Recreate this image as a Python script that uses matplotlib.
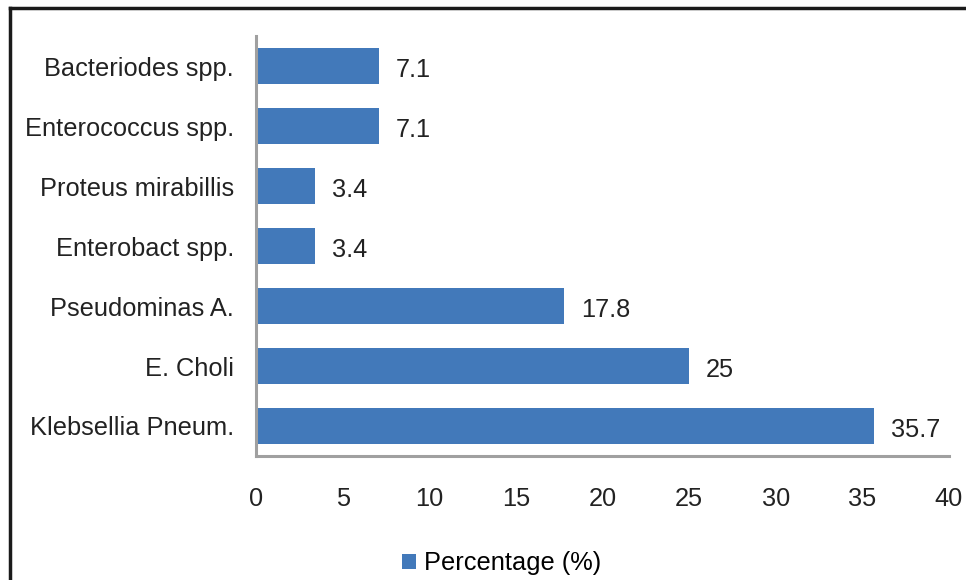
import matplotlib.pyplot as plt
from matplotlib.lines import Line2D

# dados
organismos = ['Klebsellia Pneum.', 'E. Choli', 'Pseudominas A.', 'Enterobact spp.',
              'Proteus mirabillis', 'Enterococcus spp.', 'Bacteriodes spp.']
percentagem = [35.7, 25, 17.8, 3.4, 3.4, 7.1, 7.1]
rotulos = ['35.7', '25', '17.8', '3.4', '3.4', '7.1', '7.1']
ticks_x = [0, 5, 10, 15, 20, 25, 30, 35, 40]

plt.rcParams['font.family'] = ['Liberation Sans', 'DejaVu Sans']
fs = 18.3

fig = plt.figure(figsize=(9.66, 5.8), dpi=100)
ax = fig.add_axes([0.265, 0.2138, 0.7174, 0.7241])

cor = '#4279BA'
pos = range(len(organismos))
ax.barh(pos, percentagem, height=0.6, color=cor, label='Percentage (%)')

for i, (v, t) in enumerate(zip(percentagem, rotulos)):
    ax.annotate(t, (v, i), xytext=(12, -3), textcoords='offset points',
                va='center', ha='left', fontsize=fs, color='#222222')

ax.set_xlim(0, 40)
ax.set_ylim(-0.5, 6.5)
ax.set_yticks(list(pos))
ax.set_yticklabels(organismos, fontsize=fs, color='#222222')
ax.set_xticks(ticks_x)
ax.set_xticklabels([str(t) for t in ticks_x], fontsize=fs, color='#222222')
ax.tick_params(axis='both', length=0)
ax.tick_params(axis='x', pad=22)
ax.tick_params(axis='y', pad=16)

for s in ['top', 'right']:
    ax.spines[s].set_visible(False)
for s in ['left', 'bottom']:
    ax.spines[s].set_color('#a0a0a0')
    ax.spines[s].set_linewidth(2.2)

fig.legend(loc='center', bbox_to_anchor=(0.519, 0.029), frameon=False,
           fontsize=fs, handlelength=0.55, handleheight=0.55, handletextpad=0.3)

# moldura preta (topo e esquerda)
fig.add_artist(Line2D([0.0103, 1.0], [0.9865, 0.9865], color='#1a1a1a', lw=2.5,
                      transform=fig.transFigure))
fig.add_artist(Line2D([0.0103, 0.0103], [0.0, 0.9865], color='#1a1a1a', lw=2.5,
                      transform=fig.transFigure))

fig.savefig('out.png', dpi=100)
